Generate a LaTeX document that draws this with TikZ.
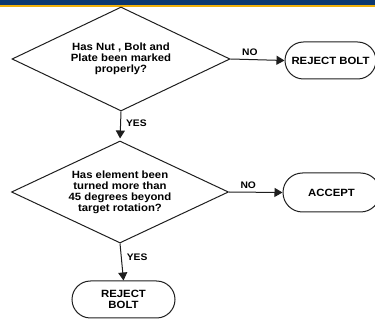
\documentclass[tikz,border=0pt]{standalone}
\usepackage{fontspec}
\setmainfont{Liberation Sans}[FakeStretch=1.08]
\usetikzlibrary{shapes.geometric,shapes.misc,arrows.meta}
\definecolor{bandnavy}{RGB}{12,56,112}
\definecolor{bandgold}{RGB}{240,176,10}
\definecolor{ink}{RGB}{30,30,30}
\tikzset{
  decision/.style={draw=ink, line width=1pt, shape=diamond, aspect=2.1, inner sep=0pt,
    align=center, font=\fontsize{10.5}{11}\selectfont\bfseries},
  terminal/.style={draw=ink, line width=1pt, shape=rounded rectangle, inner sep=0pt,
    align=center, font=\fontsize{10.5}{11}\selectfont\bfseries},
  flow/.style={draw=ink, line width=1pt, -{Triangle[length=8pt,width=9pt]}},
  lbl/.style={font=\fontsize{9.5}{11}\selectfont\bfseries, inner sep=1pt}
}
\begin{document}
\begin{tikzpicture}[x=1pt,y=-1pt]
\useasboundingbox (0,0) rectangle (375,320);
% header band
\fill[bandnavy] (0,0) rectangle (375,5);
\fill[bandgold] (0,5) rectangle (375,7.2);

% decisions
\node[decision, minimum width=218pt, minimum height=104pt] (q1) at (121,59)
  {Has Nut , Bolt and\\Plate been marked\\properly?};
\node[decision, minimum width=217pt, minimum height=102pt] (q2) at (120,192)
  {Has element been\\turned more than\\45 degrees beyond\\target rotation?};

% outcomes
\node[terminal, minimum width=91pt, minimum height=37pt] (r1) at (330.5,60.5) {REJECT BOLT};
\node[terminal, minimum width=97pt, minimum height=39pt] (ok) at (331.5,192.5) {ACCEPT};
\node[terminal, minimum width=103pt, minimum height=37pt] (r2) at (123.5,299.5) {REJECT\\BOLT};

% connectors
\draw[flow] (q1.east) -- node[lbl, pos=0.36, above=2pt] {NO} (r1.west);
\draw[flow, shorten >=2pt] (q1.south) -- node[lbl, pos=0.4, right=4pt] {YES} (q2.north);
\draw[flow] (q2.east) -- node[lbl, pos=0.36, above=2pt] {NO} (ok.west);
\draw[flow] (q2.south) -- node[lbl, pos=0.38, right=4pt] {YES} (r2.north);
\end{tikzpicture}
\end{document}
